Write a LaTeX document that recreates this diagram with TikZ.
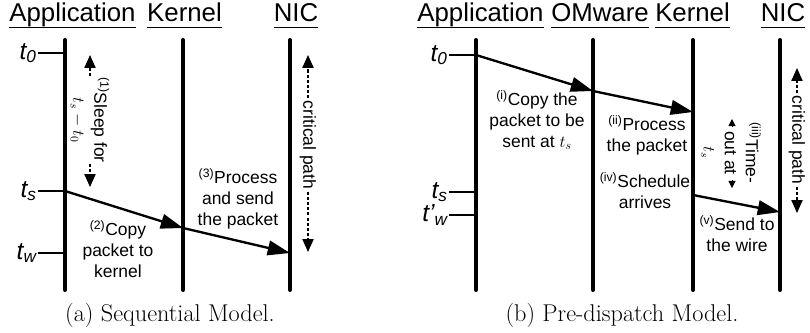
\documentclass[tikz,border=0pt]{standalone}
\usepackage{fontspec}
\newfontfamily\arialfont{Liberation Sans}
\usetikzlibrary{arrows.meta,calc}
\newcommand\headline[1]{\vtop{\hbox{#1\vphantom{p}}\kern0.6pt\hrule height 1.2pt}}

\begin{document}
\begin{tikzpicture}[x=0.03cm,y=-0.03cm,
  lifeline/.style={line width=3.4pt,line cap=round},
  tick/.style={line width=2.1pt},
  msg/.style={line width=2pt,-{Triangle[length=19pt,width=12.5pt]}},
  dasharrow/.style={line width=1.3pt,dash pattern=on 2.6pt off 1.8pt,-{Triangle[length=11pt,width=9.5pt]}},
  tinyarrow/.style={line width=0.8pt,-{Triangle[length=6pt,width=6pt]}},
  lbl/.style={font=\arialfont\fontsize{14.9}{18}\selectfont,align=center,inner sep=1pt},
  head/.style={font=\arialfont\fontsize{22}{25}\selectfont,anchor=base,inner sep=0pt},
  tlab/.style={font=\arialfont\itshape\fontsize{21}{25}\selectfont,anchor=east,inner sep=1pt},
  caption/.style={font=\fontsize{20.7}{24}\selectfont}]
  \useasboundingbox (0,0) rectangle (810,332);
  % (a) sequential model
  \node[head] (appA) at (72.5,21) {\headline{Application}};
  \node[head] (kerA) at (184.5,21) {\headline{Kernel}};
  \node[head] (nicA) at (296,21) {\headline{NIC}};
  \coordinate (appAtop) at (65,40);  \coordinate (appAbot) at (65,290);
  \coordinate (kerAtop) at (183,40); \coordinate (kerAbot) at (183,290);
  \coordinate (nicAtop) at (290,40); \coordinate (nicAbot) at (290,290);
  \draw[lifeline] (appAtop) -- (appAbot);
  \draw[lifeline] (kerAtop) -- (kerAbot);
  \draw[lifeline] (nicAtop) -- (nicAbot);
  \node[tlab] (t0A) at (38,53) {t\textsubscript{0}};
  \node[tlab] (tsA) at (38,191) {t\textsubscript{s}};
  \node[tlab] (twA) at (38,253) {t\textsubscript{w}};
  \coordinate (appA0) at (65,53);
  \coordinate (appAs) at (65,191);
  \coordinate (appAw) at (65,253);
  \coordinate (kerAin) at (183,228);
  \coordinate (nicAin) at (290,253);
  \draw[tick] (t0A.east) -- (appA0);
  \draw[tick] (tsA.east) -- (appAs);
  \draw[tick] (twA.east) -- (appAw);
  \draw[msg] (appAs) -- (kerAin);
  \draw[msg] (kerAin) -- (nicAin);
  \node[lbl,rotate=-90] (sleepA) at (90,120) {\textsuperscript{(1)}Sleep for\\$t_s - t_0$};
  \draw[dasharrow] (sleepA.west) -- (90,55);
  \draw[dasharrow] (sleepA.east) -- (90,187);
  \node[lbl] (copyA) at (118,249) {\textsuperscript{(2)}Copy\\packet to\\kernel};
  \node[lbl] (procA) at (238,199) {\textsuperscript{(3)}Process\\and send\\the packet};
  \node[lbl,rotate=-90,inner sep=2pt] (critA) at (308,145) {critical path};
  \draw[dasharrow] (critA.west) -- (308,55);
  \draw[dasharrow] (critA.east) -- (308,252);
  \node[caption] (capA) at (170,315) {(a) Sequential Model.};
  % (b) pre-dispatch model
  \node[head] (appB) at (480.5,21) {\headline{Application}};
  \node[head] (omB) at (600,21) {\headline{OMware}};
  \node[head] (kerB) at (692.5,21) {\headline{Kernel}};
  \node[head] (nicB) at (783,21) {\headline{NIC}};
  \coordinate (appBtop) at (476,40); \coordinate (appBbot) at (476,290);
  \coordinate (omBtop) at (593,40);  \coordinate (omBbot) at (593,290);
  \coordinate (kerBtop) at (693,40); \coordinate (kerBbot) at (693,290);
  \coordinate (nicBtop) at (780,40); \coordinate (nicBbot) at (780,290);
  \draw[lifeline] (appBtop) -- (appBbot);
  \draw[lifeline] (omBtop) -- (omBbot);
  \draw[lifeline] (kerBtop) -- (kerBbot);
  \draw[lifeline] (nicBtop) -- (nicBbot);
  \node[tlab] (t0B) at (449,55) {t\textsubscript{0}};
  \node[tlab] (tsB) at (449,192) {t\textsubscript{s}};
  \node[tlab] (twB) at (449,215) {t’\textsubscript{w}};
  \coordinate (appB0) at (476,55);
  \coordinate (appBs) at (476,192);
  \coordinate (appBw) at (476,215);
  \coordinate (omBin) at (593,91);
  \coordinate (kerBin) at (693,112);
  \coordinate (kerBout) at (693,195);
  \coordinate (nicBin) at (780,212);
  \draw[tick] (t0B.east) -- (appB0);
  \draw[tick] (tsB.east) -- (appBs);
  \draw[tick] (twB.east) -- (appBw);
  \draw[msg] (appB0) -- (omBin);
  \draw[msg] (omBin) -- (kerBin);
  \draw[msg] (kerBout) -- (nicBin);
  \node[lbl] (copyB) at (537,120) {\textsuperscript{(i)}Copy the\\packet to be\\sent at $t_s$};
  \node[lbl] (procB) at (647,135) {\textsuperscript{(ii)}Process\\the packet};
  \node[lbl] (schedB) at (645,191) {\textsuperscript{(iv)}Schedule\\arrives};
  \node[lbl] (sendB) at (737,234) {\textsuperscript{(v)}Send to\\the wire};
  \node[lbl,rotate=-90] (toutB) at (731,153) {\textsuperscript{(iii)}Time-\\out at\\$t_s$};
  \draw[tinyarrow] ($(toutB)+(1,-26)$) -- ($(toutB)+(1,-34)$);
  \draw[tinyarrow] ($(toutB)+(1,27)$) -- ($(toutB)+(1,35)$);
  \node[lbl,rotate=-90,inner sep=2pt] (critB) at (797,140) {critical path};
  \draw[dasharrow] (critB.west) -- (797,68);
  \draw[dasharrow] (critB.east) -- (797,213);
  \node[caption] (capB) at (622,315) {(b) Pre-dispatch Model.};
\end{tikzpicture}
\end{document}
